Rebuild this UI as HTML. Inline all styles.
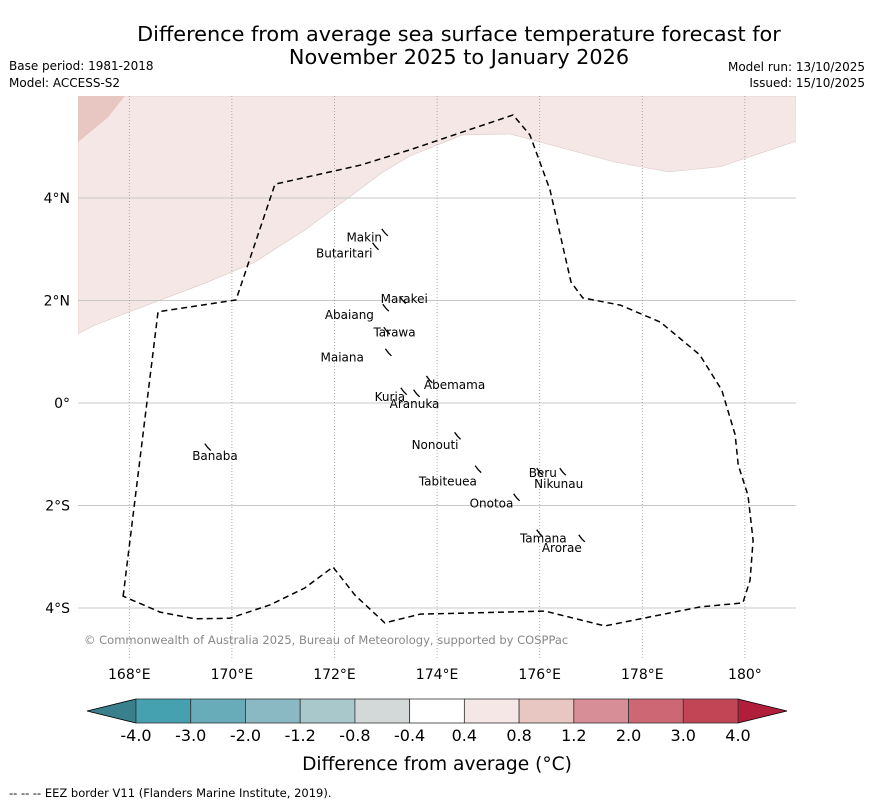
<!DOCTYPE html>
<html><head><meta charset="utf-8"><style>
body{margin:0;background:#fff;width:873px;height:804px;overflow:hidden;font-family:"DejaVu Sans","Liberation Sans",sans-serif}
svg{display:block}
</style></head><body>
<svg id="s" width="873" height="804" xmlns="http://www.w3.org/2000/svg">
<text x="459" y="41" font-size="20.8" text-anchor="middle">Difference from average sea surface temperature forecast for</text>
<text x="459" y="64" font-size="20.8" text-anchor="middle">November 2025 to January 2026</text>
<text x="9" y="70" font-size="12">Base period: 1981-2018</text>
<text x="9" y="87" font-size="12">Model: ACCESS-S2</text>
<text x="865" y="71" font-size="12" text-anchor="end">Model run: 13/10/2025</text>
<text x="865" y="87" font-size="12" text-anchor="end">Issued: 15/10/2025</text>
<g id="map"></g>
<g id="cbar"></g>
<text x="437" y="770" font-size="18.6" text-anchor="middle">Difference from average (°C)</text>
<text x="9" y="797" font-size="11.5">--  --  -- EEZ border V11 (Flanders Marine Institute, 2019).</text>
</svg>
<script>
const lonTicks=[168,170,172,174,176,178,180];
const lonLabels=["168°E","170°E","172°E","174°E","176°E","178°E","180°"];
const latTicks=[4,2,0,-2,-4];
const latLabels=["4°N","2°N","0°","2°S","4°S"];
const eezLon=[167.88,168.56,170.08,170.84,172.50,173.47,175.48,175.81,176.20,176.61,176.84,177.57,178.35,179.12,179.55,179.81,179.87,180.06,180.16,180.10,179.96,179.12,177.27,176.10,173.67,172.98,172.40,171.97,171.42,170.74,169.96,169.28,168.60];
const eezLat=[-3.77,1.78,2.01,4.27,4.64,4.94,5.62,5.23,4.16,2.36,2.05,1.91,1.58,0.94,0.25,-0.62,-1.21,-1.80,-2.68,-3.46,-3.90,-3.98,-4.35,-4.06,-4.12,-4.29,-3.75,-3.20,-3.61,-3.94,-4.20,-4.21,-4.08];
const warmLon=[167,167.33,168.01,169.48,170.45,171.43,172.95,173.47,174.49,175.42,176.01,177.47,178.51,179.52,181];
const warmLat=[1.35,1.52,1.78,2.34,2.75,3.38,4.51,4.82,5.23,5.25,5.09,4.70,4.51,4.61,5.11];
const hotLon=[167,167.92,167.59,167];
const hotLat=[6,6,5.58,5.09];
const islandNames=["Makin","Butaritari","Marakei","Abaiang","Tarawa","Maiana","Abemama","Kuria","Aranuka","Nonouti","Banaba","Beru","Nikunau","Tabiteuea","Onotoa","Tamana","Arorae"];
const islandLon=[172.58,172.19,173.36,172.29,173.17,172.15,174.34,173.08,173.56,173.96,169.67,176.06,176.37,174.21,175.06,176.07,176.43];
const islandLat=[3.23,2.92,2.03,1.72,1.38,0.89,0.35,0.12,-0.02,-0.82,-1.03,-1.37,-1.58,-1.53,-1.96,-2.64,-2.83];
const atollLon=[172.98,172.80,173.33,173.00,173.02,173.05,173.85,173.35,173.60,174.40,169.53,176.00,176.45,174.80,175.55,176.00,176.82];
const atollLat=[3.32,3.05,2.00,1.85,1.40,0.98,0.45,0.22,0.18,-0.65,-0.87,-1.35,-1.35,-1.30,-1.85,-2.55,-2.65];
const cbBounds=["-4.0","-3.0","-2.0","-1.2","-0.8","-0.4","0.4","0.8","1.2","2.0","3.0","4.0"];
const cbColors=["#45a0b0","#68abb9","#8ab8c3","#a8c8cc","#d3d8d8","#ffffff","#f4e7e6","#e8c6c2","#d88e96","#cd6773","#c24556"];
const NS="http://www.w3.org/2000/svg";
const X=lon=>78+(lon-167)*51.3, Y=lat=>403-lat*51.25;
const x0=78,x1=796,y0=96,y1=658;
function el(t,a,p){const e=document.createElementNS(NS,t);for(const k in a)e.setAttribute(k,a[k]);p.appendChild(e);return e;}
const map=document.getElementById('map');
const clip=el('clipPath',{id:'mc'},map);el('rect',{x:x0,y:y0,width:x1-x0,height:y1-y0},clip);
const g=el('g',{'clip-path':'url(#mc)'},map);
let d=`M${x0},${y0}L${x1},${y0}`;for(let i=warmLon.length-1;i>=0;i--)d+=`L${X(warmLon[i])},${Y(warmLat[i])}`;d+='Z';
const warm=el('path',{d,fill:'#f4e7e6',stroke:'#dcc8c6','stroke-width':0.6},g);


const hot=el('path',{d:'M'+hotLon.map((v,i)=>X(v)+','+Y(hotLat[i])).join('L')+'Z',fill:'#e8c6c2'},g);


latTicks.forEach((v,i)=>{const l=el('line',{x1:x0,x2:x1,y1:Y(v),y2:Y(v),stroke:'#c8c8c8','stroke-width':1},g);


const t=el('text',{x:70,y:Y(v)+5,'font-size':14,'text-anchor':'end'},map);t.textContent=latLabels[i];

});
lonTicks.forEach((v,i)=>{const l=el('line',{x1:X(v),x2:X(v),y1:y0,y2:y1,stroke:'#999','stroke-width':0.8,'stroke-dasharray':'1,2'},g);


const t=el('text',{x:X(v),y:679,'font-size':14,'text-anchor':'middle'},map);t.textContent=lonLabels[i];

});
const eez=el('path',{d:'M'+eezLon.map((v,i)=>X(v)+','+Y(eezLat[i])).join('L')+'Z',fill:'none',stroke:'#000','stroke-width':1.5,'stroke-dasharray':'6,4'},g);


atollLon.forEach((v,i)=>{const a=el('path',{d:`M${X(v)-3},${Y(atollLat[i])-4}L${X(v)},${Y(atollLat[i])}L${X(v)+3},${Y(atollLat[i])+3}`,fill:'none',stroke:'#000','stroke-width':1.3},g);

});
islandNames.forEach((n,i)=>{const t=el('text',{x:X(islandLon[i]),y:Y(islandLat[i])+4,'font-size':12,'text-anchor':'middle'},g);t.textContent=n;

});
const cr=el('text',{x:84,y:644,'font-size':11.5,fill:'#888'},map);cr.textContent='© Commonwealth of Australia 2025, Bureau of Meteorology, supported by COSPPac';


const cb=document.getElementById('cbar');
const cx0=136,cx1=738,cy0=699,cy1=723,sw=(cx1-cx0)/cbColors.length;
const lt=el('path',{d:`M${cx0},${cy0}L87,711L${cx0},${cy1}Z`,fill:'#3a808c',stroke:'#000','stroke-width':0.8},cb);


const rt=el('path',{d:`M${cx1},${cy0}L787,711L${cx1},${cy1}Z`,fill:'#b01e3c',stroke:'#000','stroke-width':0.8},cb);


cbColors.forEach((c,i)=>{const r=el('rect',{x:cx0+i*sw,y:cy0,width:sw,height:cy1-cy0,fill:c,stroke:'#333','stroke-width':0.8},cb);

});
cbBounds.forEach((b,i)=>{const t=el('text',{x:cx0+i*sw,y:741,'font-size':16,'text-anchor':'middle'},cb);t.textContent=b;

});
</script>
</body></html>
